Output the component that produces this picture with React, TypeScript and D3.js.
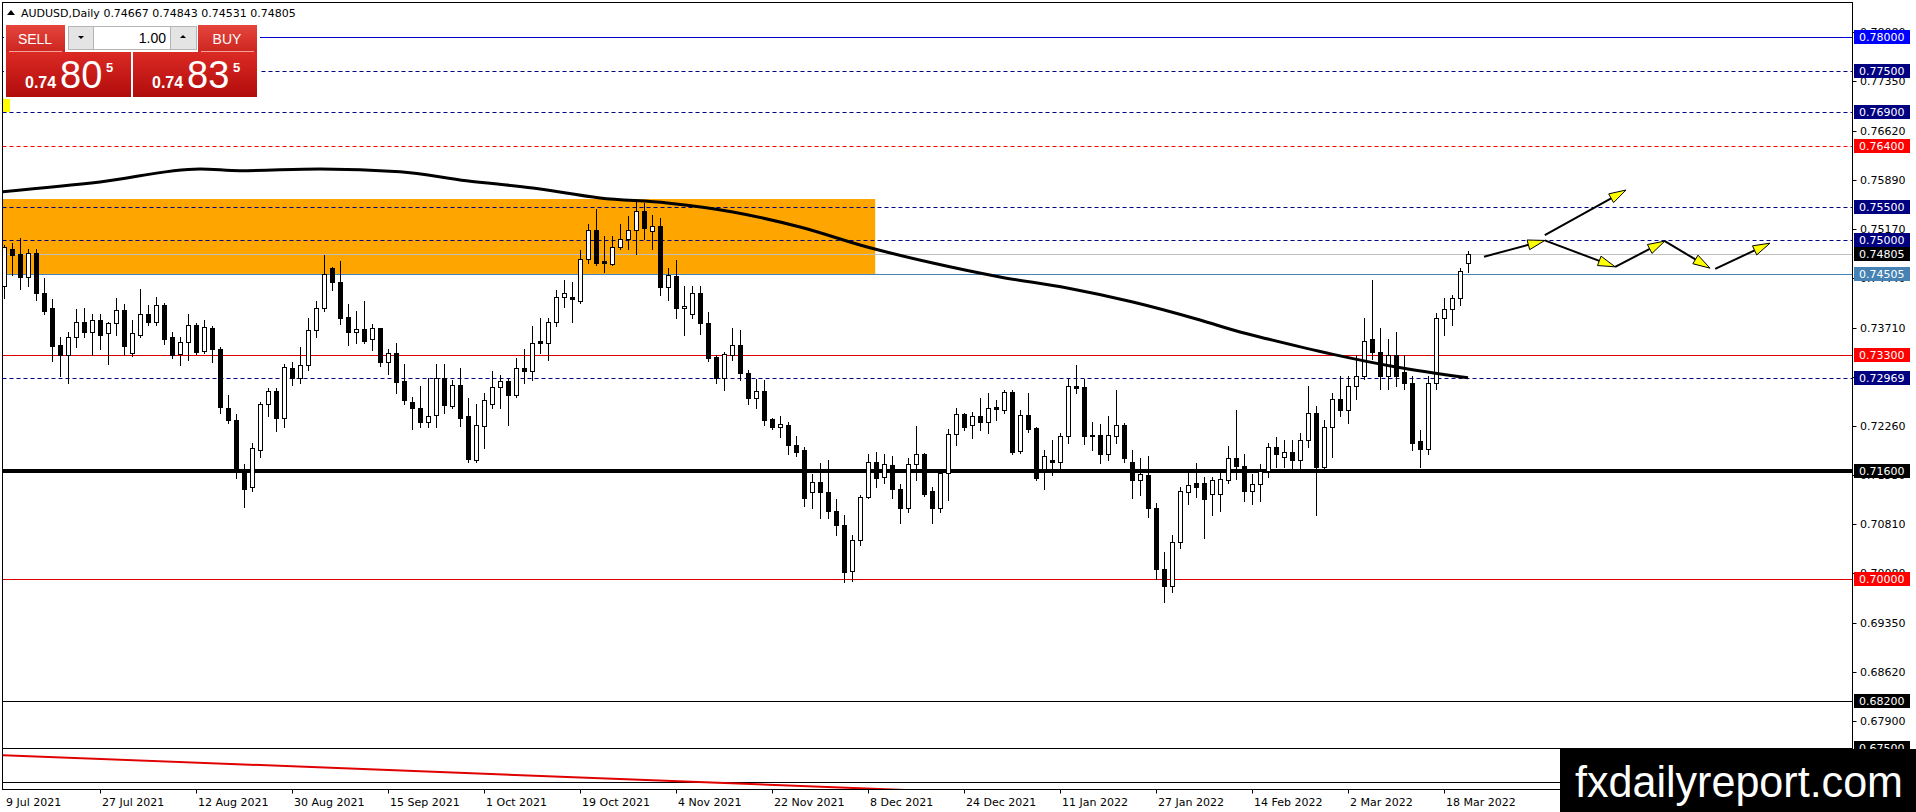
import { useEffect, useRef } from 'react';
import * as d3 from 'd3';

const W = 1916;
const H = 812;

// daily candles, 9 Jul 2021 .. 23 Mar 2022 (one per weekday)
const openP = [
  0.7432, 0.7487, 0.7480, 0.7446, 0.7482, 0.7423, 0.7400, 0.7345, 0.7330, 0.7357,
  0.7380, 0.7365, 0.7383, 0.7363, 0.7378, 0.7397, 0.7333, 0.7361, 0.7391, 0.7379,
  0.7405, 0.7358, 0.7332, 0.7350, 0.7375, 0.7336, 0.7370, 0.7339, 0.7253, 0.7235,
  0.7162, 0.7135, 0.7190, 0.7259, 0.7278, 0.7237, 0.7311, 0.7296, 0.7316, 0.7368,
  0.7400, 0.7460, 0.7439, 0.7387, 0.7365, 0.7369, 0.7355, 0.7370, 0.7321, 0.7334,
  0.7292, 0.7262, 0.7253, 0.7232, 0.7242, 0.7296, 0.7255, 0.7287, 0.7240, 0.7176,
  0.7226, 0.7259, 0.7283, 0.7292, 0.7272, 0.7312, 0.7307, 0.7351, 0.7349, 0.7379,
  0.7416, 0.7417, 0.7411, 0.7472, 0.7516, 0.7469, 0.7465, 0.7491, 0.7502, 0.7515,
  0.7543, 0.7514, 0.7521, 0.7431, 0.7447, 0.7400, 0.7392, 0.7423, 0.7378, 0.7328,
  0.7296, 0.7331, 0.7346, 0.7304, 0.7267, 0.7277, 0.7236, 0.7225, 0.7228, 0.7198,
  0.7190, 0.7129, 0.7143, 0.7129, 0.7100, 0.7080, 0.7012, 0.7058, 0.7121, 0.7172,
  0.7150, 0.7168, 0.7132, 0.7105, 0.7170, 0.7184, 0.7130, 0.7105, 0.7156, 0.7214,
  0.7244, 0.7227, 0.7240, 0.7232, 0.7254, 0.7250, 0.7276, 0.7189, 0.7242, 0.7223,
  0.7163, 0.7176, 0.7173, 0.7211, 0.7285, 0.7283, 0.7212, 0.7212, 0.7185, 0.7211,
  0.7227, 0.7173, 0.7146, 0.7153, 0.7105, 0.7015, 0.6990, 0.7055, 0.7129, 0.7141,
  0.7142, 0.7126, 0.7126, 0.7146, 0.7179, 0.7166, 0.7130, 0.7140, 0.7160, 0.7195,
  0.7180, 0.7188, 0.7175, 0.7205, 0.7245, 0.7165, 0.7225, 0.7265, 0.7250, 0.7285,
  0.7300, 0.7355, 0.7335, 0.7300, 0.7330, 0.7305, 0.7290, 0.7203, 0.7192, 0.7290,
  0.7385, 0.7398, 0.7415, 0.74667,
];
const highP = [
  0.7493, 0.7496, 0.7503, 0.7487, 0.7488, 0.7444, 0.7413, 0.7357, 0.7364, 0.7398,
  0.7400, 0.7391, 0.7391, 0.7380, 0.7415, 0.7406, 0.7383, 0.7428, 0.7405, 0.7417,
  0.7407, 0.7364, 0.7357, 0.7391, 0.7378, 0.7382, 0.7373, 0.7343, 0.7272, 0.7243,
  0.7170, 0.7200, 0.7262, 0.7282, 0.7282, 0.7318, 0.7320, 0.7343, 0.7385, 0.7411,
  0.7479, 0.7461, 0.7470, 0.7406, 0.7395, 0.7411, 0.7377, 0.7371, 0.7339, 0.7348,
  0.7317, 0.7269, 0.7285, 0.7296, 0.7317, 0.7317, 0.7294, 0.7312, 0.7267, 0.7259,
  0.7275, 0.7307, 0.7301, 0.7295, 0.7326, 0.7339, 0.7373, 0.7385, 0.7385, 0.7427,
  0.7442, 0.7439, 0.7486, 0.7524, 0.7546, 0.7507, 0.7507, 0.7525, 0.7536, 0.7557,
  0.7555, 0.7538, 0.7533, 0.7460, 0.7471, 0.7433, 0.7432, 0.7433, 0.7394, 0.7331,
  0.7335, 0.7371, 0.7368, 0.7308, 0.7295, 0.7294, 0.7237, 0.7240, 0.7232, 0.7211,
  0.7195, 0.7155, 0.7171, 0.7175, 0.7118, 0.7095, 0.7065, 0.7124, 0.7185, 0.7188,
  0.7184, 0.7181, 0.7140, 0.7179, 0.7226, 0.7186, 0.7135, 0.7160, 0.7222, 0.7253,
  0.7245, 0.7246, 0.7267, 0.7274, 0.7264, 0.7279, 0.7279, 0.7250, 0.7274, 0.7224,
  0.7190, 0.7205, 0.7215, 0.7295, 0.7316, 0.7295, 0.7232, 0.7229, 0.7240, 0.7279,
  0.7230, 0.7190, 0.7178, 0.7182, 0.7112, 0.7040, 0.7065, 0.7135, 0.7156, 0.7171,
  0.7150, 0.7150, 0.7163, 0.7196, 0.7250, 0.7185, 0.7155, 0.7170, 0.7200, 0.7210,
  0.7205, 0.7205, 0.7215, 0.7285, 0.7255, 0.7235, 0.7275, 0.7300, 0.7300, 0.7330,
  0.7385, 0.7441, 0.7370, 0.7355, 0.7365, 0.7330, 0.7300, 0.7220, 0.7300, 0.7393,
  0.7415, 0.7420, 0.7460, 0.74843,
];
const lowP = [
  0.7415, 0.7449, 0.7428, 0.7432, 0.7412, 0.7392, 0.7322, 0.7300, 0.7290, 0.7343,
  0.7358, 0.7331, 0.7339, 0.7318, 0.7360, 0.7331, 0.7329, 0.7358, 0.7375, 0.7375,
  0.7347, 0.7327, 0.7316, 0.7323, 0.7332, 0.7333, 0.7321, 0.7245, 0.7230, 0.7149,
  0.7106, 0.7130, 0.7180, 0.7240, 0.7218, 0.7225, 0.7286, 0.7290, 0.7309, 0.7358,
  0.7396, 0.7427, 0.7377, 0.7345, 0.7348, 0.7348, 0.7338, 0.7314, 0.7303, 0.7275,
  0.7259, 0.7222, 0.7225, 0.7225, 0.7225, 0.7245, 0.7252, 0.7226, 0.7172, 0.7173,
  0.7194, 0.7252, 0.7252, 0.7227, 0.7269, 0.7290, 0.7294, 0.7333, 0.7324, 0.7374,
  0.7402, 0.7380, 0.7408, 0.7466, 0.7464, 0.7454, 0.7464, 0.7487, 0.7488, 0.7480,
  0.7502, 0.7487, 0.7419, 0.7412, 0.7385, 0.7360, 0.7385, 0.7362, 0.7322, 0.7289,
  0.7279, 0.7324, 0.7294, 0.7259, 0.7252, 0.7227, 0.7222, 0.7210, 0.7185, 0.7181,
  0.7108, 0.7105, 0.7090, 0.7090, 0.7065, 0.6995, 0.6997, 0.7050, 0.7119, 0.7136,
  0.7141, 0.7119, 0.7083, 0.7098, 0.7146, 0.7123, 0.7083, 0.7098, 0.7116, 0.7197,
  0.7220, 0.7208, 0.7220, 0.7215, 0.7235, 0.7245, 0.7184, 0.7186, 0.7217, 0.7146,
  0.7132, 0.7153, 0.7162, 0.7200, 0.7274, 0.7199, 0.7190, 0.7171, 0.7175, 0.7200,
  0.7173, 0.7119, 0.7124, 0.7092, 0.7000, 0.6966, 0.6980, 0.7045, 0.7110, 0.7121,
  0.7060, 0.7095, 0.7100, 0.7141, 0.7148, 0.7115, 0.7110, 0.7115, 0.7150, 0.7165,
  0.7165, 0.7160, 0.7160, 0.7195, 0.7094, 0.7160, 0.7180, 0.7240, 0.7230, 0.7265,
  0.7295, 0.7325, 0.7280, 0.7280, 0.7285, 0.7280, 0.7190, 0.7165, 0.7185, 0.7280,
  0.7360, 0.7375, 0.7405, 0.74531,
];
const closeP = [
  0.7491, 0.7479, 0.7446, 0.7481, 0.7423, 0.7396, 0.7344, 0.7330, 0.7357, 0.7380,
  0.7365, 0.7383, 0.7361, 0.7378, 0.7397, 0.7344, 0.7363, 0.7391, 0.7380, 0.7405,
  0.7354, 0.7331, 0.7350, 0.7375, 0.7335, 0.7372, 0.7339, 0.7254, 0.7234, 0.7162,
  0.7133, 0.7193, 0.7259, 0.7278, 0.7237, 0.7313, 0.7296, 0.7316, 0.7368, 0.7400,
  0.7451, 0.7439, 0.7386, 0.7365, 0.7369, 0.7352, 0.7370, 0.7321, 0.7333, 0.7291,
  0.7264, 0.7253, 0.7232, 0.7241, 0.7296, 0.7257, 0.7287, 0.7238, 0.7177, 0.7227,
  0.7264, 0.7283, 0.7292, 0.7272, 0.7312, 0.7307, 0.7349, 0.7349, 0.7379, 0.7417,
  0.7422, 0.7413, 0.7472, 0.7516, 0.7466, 0.7466, 0.7491, 0.7502, 0.7515, 0.7543,
  0.7518, 0.7521, 0.7431, 0.7449, 0.7400, 0.7403, 0.7423, 0.7378, 0.7327, 0.7296,
  0.7332, 0.7346, 0.7304, 0.7267, 0.7277, 0.7234, 0.7225, 0.7229, 0.7198, 0.7188,
  0.7120, 0.7143, 0.7129, 0.7100, 0.7080, 0.7010, 0.7058, 0.7121, 0.7172, 0.7149,
  0.7170, 0.7132, 0.7105, 0.7170, 0.7184, 0.7126, 0.7105, 0.7156, 0.7214, 0.7243,
  0.7224, 0.7240, 0.7232, 0.7253, 0.7251, 0.7276, 0.7188, 0.7242, 0.7222, 0.7149,
  0.7181, 0.7173, 0.7211, 0.7285, 0.7282, 0.7211, 0.7211, 0.7185, 0.7212, 0.7227,
  0.7178, 0.7146, 0.7155, 0.7105, 0.7015, 0.6990, 0.7055, 0.7130, 0.7139, 0.7136,
  0.7118, 0.7146, 0.7147, 0.7179, 0.7166, 0.7130, 0.7140, 0.7160, 0.7195, 0.7185,
  0.7188, 0.7175, 0.7205, 0.7245, 0.7165, 0.7225, 0.7265, 0.7250, 0.7285, 0.7300,
  0.7352, 0.7335, 0.7300, 0.7330, 0.7300, 0.7290, 0.7200, 0.7192, 0.7290, 0.7385,
  0.7398, 0.7415, 0.7455, 0.74805,
];

// moving average at bar positions
const maBars = [-0.5, 12, 24.5, 29.5, 39.5, 49.5, 57.8, 66.1, 74.5, 82.9, 91.1, 99.5, 107.9, 116.1, 124.5, 132.9, 141.1, 149.5, 154.5, 158, 166, 174, 183];
const maValues = [0.75716, 0.75863, 0.76056, 0.7603, 0.76056, 0.76016, 0.75883, 0.75775, 0.75627, 0.75553, 0.7542, 0.75198, 0.74903, 0.74666, 0.7446, 0.74297, 0.7409, 0.73824, 0.73647, 0.73543, 0.73320, 0.7313, 0.7297];

const dateLabels = ['9 Jul 2021', '27 Jul 2021', '12 Aug 2021', '30 Aug 2021', '15 Sep 2021', '1 Oct 2021', '19 Oct 2021', '4 Nov 2021', '22 Nov 2021', '8 Dec 2021', '24 Dec 2021', '11 Jan 2022', '27 Jan 2022', '14 Feb 2022', '2 Mar 2022', '18 Mar 2022'];
const dateBars = [0, 12, 24, 36, 48, 60, 72, 84, 96, 108, 120, 132, 144, 156, 168, 180];

const priceTicks = [0.7808, 0.7735, 0.7662, 0.7589, 0.7517, 0.7444, 0.7371, 0.7298, 0.7226, 0.7153, 0.7081, 0.7008, 0.6935, 0.6862, 0.679, 0.6717];

const levels = [0.78, 0.775, 0.769, 0.764, 0.755, 0.75, 0.74805, 0.74505, 0.733, 0.72969, 0.716, 0.70, 0.682, 0.675, 0.67];

const zoneTop = 0.75612;
const zoneBottom = 0.74505;
const zoneEndBar = 108.9;

const arrowFrom: [number, number][] = [[185, 0.7476], [192.6, 0.7508], [192.6, 0.7500], [201.4, 0.7461], [207.6, 0.7499], [213.9, 0.7458]];
const arrowTo: [number, number][] = [[192.6, 0.7500], [202.75, 0.75745], [201.4, 0.7461], [207.6, 0.7499], [213.25, 0.7459], [220.75, 0.7496]];

const trendFrom: [number, number] = [-0.5, 0.67396];
const trendTo: [number, number] = [112.75, 0.66879];

const titleValues = [0.74667, 0.74843, 0.74531, 0.74805];
const bid = 0.74805;
const ask = 0.74835;
const lots = '1.00';

const App = () => {
  const ref = useRef<SVGSVGElement>(null);

  useEffect(() => {
    if (!ref.current) return;
    document.body.style.margin = '0';
    const svg = d3.select(ref.current);
    svg.selectAll('*').remove();

    const x = d3.scaleLinear().domain([0, 1]).range([4, 12]);
    const y = d3.scaleLinear().domain([0.675, 0.7808]).range([748, 32]);

    const left = 2.5, top = 2.5, right = 1852.5, bottom = 789.5;
    const font = "'DejaVu Sans', Tahoma, sans-serif";
    const crisp = (v: number) => Math.round(v) + 0.5;

    svg.append('rect').attr('width', W).attr('height', H).attr('fill', '#fff');

    const defs = svg.append('defs');
    defs.append('clipPath').attr('id', 'plot')
      .append('rect')
      .attr('x', left + 0.5).attr('y', top + 0.5)
      .attr('width', right - left - 1).attr('height', bottom - top - 1);

    const sell = defs.append('linearGradient').attr('id', 'redBox').attr('x1', 0).attr('x2', 0).attr('y1', 0).attr('y2', 1);
    sell.append('stop').attr('offset', '0%').attr('stop-color', '#dc2a24');
    sell.append('stop').attr('offset', '100%').attr('stop-color', '#b00c0c');
    const btn = defs.append('linearGradient').attr('id', 'redBtn').attr('x1', 0).attr('x2', 0).attr('y1', 0).attr('y2', 1);
    btn.append('stop').attr('offset', '0%').attr('stop-color', '#e5453c');
    btn.append('stop').attr('offset', '100%').attr('stop-color', '#cc2620');

    const plot = svg.append('g').attr('clip-path', 'url(#plot)');

    // supply zone
    plot.append('rect')
      .attr('x', left)
      .attr('y', y(zoneTop))
      .attr('width', x(zoneEndBar) - left)
      .attr('height', y(zoneBottom) - y(zoneTop))
      .attr('fill', '#ffa500');

    // horizontal levels
    const look: Record<string, { stroke: string; width: number; dash?: string; box?: string }> = {
      '0.78000': { stroke: '#0000cd', width: 1, box: '#0000ff' },
      '0.77500': { stroke: '#000080', width: 1, dash: '4,3', box: '#000080' },
      '0.76900': { stroke: '#000080', width: 1, dash: '4,3', box: '#000080' },
      '0.76400': { stroke: '#ff0000', width: 1, dash: '4,3', box: '#ff0000' },
      '0.75500': { stroke: '#000080', width: 1, dash: '4,3', box: '#000080' },
      '0.75000': { stroke: '#000080', width: 1, dash: '4,3', box: '#000080' },
      '0.74805': { stroke: '#c0c0c0', width: 1, box: '#000000' },
      '0.74505': { stroke: '#4682b4', width: 1, box: '#4682b4' },
      '0.73300': { stroke: '#e00000', width: 1, box: '#ff0000' },
      '0.72969': { stroke: '#000080', width: 1, dash: '4,3', box: '#000080' },
      '0.71600': { stroke: '#000000', width: 4, box: '#000000' },
      '0.70000': { stroke: '#e00000', width: 1, box: '#ff0000' },
      '0.68200': { stroke: '#000000', width: 1, box: '#000000' },
      '0.67500': { stroke: '#000000', width: 1, box: '#000000' },
      '0.67000': { stroke: '#000000', width: 1 },
    };

    levels.forEach(p => {
      const s = look[p.toFixed(5)];
      const yy = s.width % 2 === 1 ? crisp(y(p)) : Math.round(y(p));
      plot.append('line')
        .attr('x1', left).attr('x2', right)
        .attr('y1', yy).attr('y2', yy)
        .attr('stroke', s.stroke)
        .attr('stroke-width', s.width)
        .attr('stroke-dasharray', s.dash || null);
    });

    // candles
    const candles = plot.append('g').attr('shape-rendering', 'crispEdges');
    openP.forEach((o, i) => {
      const c = closeP[i];
      const cx = Math.round(x(i));
      const up = c >= o;
      candles.append('line')
        .attr('x1', cx + 0.5).attr('x2', cx + 0.5)
        .attr('y1', Math.round(y(highP[i]))).attr('y2', Math.round(y(lowP[i])) + 1)
        .attr('stroke', '#000');
      const yt = Math.round(y(Math.max(o, c)));
      const yb = Math.round(y(Math.min(o, c)));
      candles.append('rect')
        .attr('x', cx - 1.5)
        .attr('y', yt + 0.5)
        .attr('width', 4)
        .attr('height', Math.max(yb - yt, 1))
        .attr('fill', up ? '#fff' : '#000')
        .attr('stroke', '#000');
    });

    // moving average
    const ma = d3.line<number>()
      .x((d, i) => x(maBars[i]))
      .y(d => y(d))
      .curve(d3.curveMonotoneX);
    plot.append('path')
      .attr('d', ma(maValues) || '')
      .attr('fill', 'none')
      .attr('stroke', '#000')
      .attr('stroke-width', 3);

    // descending red trendline at the bottom
    plot.append('line')
      .attr('x1', x(trendFrom[0])).attr('y1', y(trendFrom[1]))
      .attr('x2', x(trendTo[0])).attr('y2', y(trendTo[1]))
      .attr('stroke', '#e00000')
      .attr('stroke-width', 2);

    // projected path arrows
    arrowFrom.forEach((a, i) => {
      const b = arrowTo[i];
      const x1 = x(a[0]), y1 = y(a[1]), x2 = x(b[0]), y2 = y(b[1]);
      const len = Math.hypot(x2 - x1, y2 - y1);
      const ux = (x2 - x1) / len, uy = (y2 - y1) / len;
      const bx = x2 - ux * 17, by = y2 - uy * 17;
      plot.append('line')
        .attr('x1', x1).attr('y1', y1).attr('x2', bx).attr('y2', by)
        .attr('stroke', '#000').attr('stroke-width', 2);
      const pts = [[x2, y2], [bx - uy * 5, by + ux * 5], [bx + uy * 5, by - ux * 5]];
      plot.append('polygon')
        .attr('points', pts.map(p => p.join(',')).join(' '))
        .attr('fill', '#ffff00')
        .attr('stroke', '#000')
        .attr('stroke-width', 1);
    });

    // frame
    svg.append('rect')
      .attr('x', left).attr('y', top)
      .attr('width', right - left).attr('height', bottom - top)
      .attr('fill', 'none').attr('stroke', '#000').attr('shape-rendering', 'crispEdges');

    // yellow marker on the left edge
    svg.append('rect').attr('x', 3).attr('y', 98).attr('width', 7).attr('height', 14).attr('fill', '#ffff00');

    // title
    svg.append('path').attr('d', 'M7,15 L11,10 L15,15 Z').attr('fill', '#000');
    svg.append('text')
      .attr('x', 21).attr('y', 17)
      .attr('font-family', font).attr('font-size', 11).attr('fill', '#000')
      .text(`AUDUSD,Daily ${titleValues.map(v => v.toFixed(5)).join(' ')}`);

    // one-click trading panel
    const panel = svg.append('g');
    panel.append('rect').attr('x', 4).attr('y', 24).attr('width', 256).attr('height', 75).attr('fill', '#fff');
    panel.append('rect').attr('x', 6).attr('y', 25).attr('width', 59).attr('height', 27).attr('fill', 'url(#redBtn)');
    panel.append('rect').attr('x', 198).attr('y', 25).attr('width', 59).attr('height', 27).attr('fill', 'url(#redBtn)');
    panel.append('line').attr('x1', 9).attr('x2', 62).attr('y1', 51.5).attr('y2', 51.5).attr('stroke', '#f3a39c');
    panel.append('line').attr('x1', 201).attr('x2', 254).attr('y1', 51.5).attr('y2', 51.5).attr('stroke', '#f3a39c');
    panel.append('rect').attr('x', 6).attr('y', 52).attr('width', 125).attr('height', 45).attr('fill', 'url(#redBox)');
    panel.append('rect').attr('x', 133).attr('y', 52).attr('width', 124).attr('height', 45).attr('fill', 'url(#redBox)');
    panel.append('rect').attr('x', 68.5).attr('y', 26.5).attr('width', 25).attr('height', 23).attr('fill', '#e4e4e4').attr('stroke', '#b5b5b5');
    panel.append('rect').attr('x', 93.5).attr('y', 26.5).attr('width', 77).attr('height', 23).attr('fill', '#fff').attr('stroke', '#b5b5b5');
    panel.append('rect').attr('x', 170.5).attr('y', 26.5).attr('width', 26).attr('height', 23).attr('fill', '#e4e4e4').attr('stroke', '#b5b5b5');
    panel.append('path').attr('d', 'M78,36 L84,36 L81,39 Z').attr('fill', '#000');
    panel.append('path').attr('d', 'M180,38 L186,38 L183,35 Z').attr('fill', '#000');
    panel.append('text').attr('x', 166).attr('y', 43).attr('text-anchor', 'end')
      .attr('font-family', "'Liberation Sans', Arial, sans-serif").attr('font-size', 14).attr('fill', '#000').text(lots);

    const btnFont = "'Liberation Sans', Arial, sans-serif";
    panel.append('text').attr('x', 35).attr('y', 44).attr('text-anchor', 'middle')
      .attr('font-family', btnFont).attr('font-size', 14).attr('fill', '#fff').text('SELL');
    panel.append('text').attr('x', 227).attr('y', 44).attr('text-anchor', 'middle')
      .attr('font-family', btnFont).attr('font-size', 14).attr('fill', '#fff').text('BUY');

    const quote = (v: number, x0: number) => {
      const s = v.toFixed(5);
      panel.append('text').attr('x', x0).attr('y', 88)
        .attr('font-family', btnFont).attr('font-size', 16).attr('font-weight', 'bold').attr('fill', '#fff')
        .text(s.slice(0, 4));
      panel.append('text').attr('x', x0 + 35).attr('y', 88)
        .attr('font-family', btnFont).attr('font-size', 38).attr('fill', '#fff')
        .text(s.slice(4, 6));
      panel.append('text').attr('x', x0 + 81).attr('y', 72)
        .attr('font-family', btnFont).attr('font-size', 13).attr('font-weight', 'bold').attr('fill', '#fff')
        .text(s.slice(6));
    };
    quote(bid, 25);
    quote(ask, 152);

    // price axis
    const axis = svg.append('g').attr('font-family', font).attr('font-size', 11);
    priceTicks.forEach(p => {
      const yy = crisp(y(p));
      axis.append('line').attr('x1', right).attr('x2', right + 4).attr('y1', yy).attr('y2', yy).attr('stroke', '#000');
      axis.append('text').attr('x', 1860).attr('y', y(p)).attr('dy', '0.36em').attr('fill', '#000').text(p.toFixed(5));
    });
    levels.forEach(p => {
      const s = look[p.toFixed(5)];
      if (!s.box) return;
      const yy = Math.round(y(p));
      axis.append('rect').attr('x', 1854).attr('y', yy - 7).attr('width', 56).attr('height', 14).attr('fill', s.box);
      axis.append('text').attr('x', 1859).attr('y', yy).attr('dy', '0.38em').attr('fill', '#fff').text(p.toFixed(5));
    });

    // time axis
    dateLabels.forEach((label, i) => {
      const xx = crisp(x(dateBars[i]));
      if (i > 0) {
        axis.append('line').attr('x1', xx).attr('x2', xx).attr('y1', bottom).attr('y2', bottom + 4).attr('stroke', '#000');
      }
      axis.append('text').attr('x', x(dateBars[i]) + 2).attr('y', 806).attr('fill', '#000').text(label);
    });

    // watermark
    svg.append('rect').attr('x', 1560).attr('y', 749).attr('width', 356).attr('height', 63).attr('fill', '#000');
    svg.append('text')
      .attr('x', 1575).attr('y', 797)
      .attr('font-family', "'Liberation Sans', Arial, sans-serif")
      .attr('font-size', 44)
      .attr('textLength', 328)
      .attr('lengthAdjust', 'spacingAndGlyphs')
      .attr('fill', '#fff')
      .text('fxdailyreport.com');
  }, []);

  return (
    <svg ref={ref} width={W} height={H} style={{ display: 'block', position: 'absolute', left: 0, top: 0 }} />
  );
};

export default App;
